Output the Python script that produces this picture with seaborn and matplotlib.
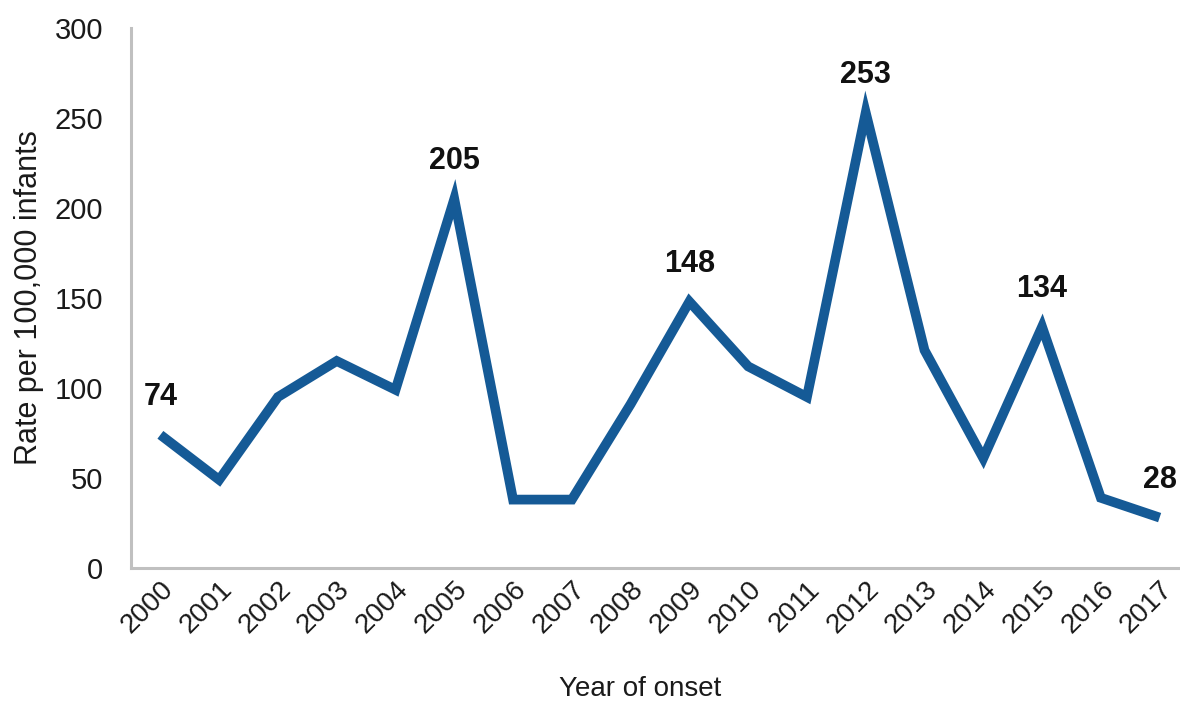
import matplotlib
matplotlib.use("Agg")
import matplotlib.pyplot as plt
import seaborn as sns
import pandas as pd

years = ["2000", "2001", "2002", "2003", "2004", "2005", "2006", "2007", "2008",
         "2009", "2010", "2011", "2012", "2013", "2014", "2015", "2016", "2017"]
rates = [74, 49, 95, 115, 99, 205, 38, 38, 91, 148, 112, 95, 253, 121, 61, 134, 39, 28]
labeled_years = ["2000", "2005", "2009", "2012", "2015", "2017"]

sns.set_theme(style="white")
plt.rcParams['font.family'] = ['Liberation Sans', 'DejaVu Sans']

df = pd.DataFrame({"year": years, "rate": rates})
df["pos"] = range(len(df))

fig = plt.figure(figsize=(11.8, 7.04), dpi=100)
axw = (1189 - 131) / 1180
ax = fig.add_axes([131/1180, (704-568)/704, axw, 540/704])

sns.lineplot(data=df, x="pos", y="rate", ax=ax, color="#155a96", linewidth=7,
             solid_joinstyle="miter", solid_capstyle="butt")

ax.set_xlim(-0.5, len(years) - 0.5)
ax.set_ylim(0, 300)
ax.set_yticks([0, 50, 100, 150, 200, 250, 300])
ax.set_xticks(df["pos"])
ax.set_xticklabels(years, rotation=45, ha="right", rotation_mode="anchor")
ax.tick_params(axis="both", length=0, colors="#1a1a1a")
ax.tick_params(axis="x", pad=6, labelsize=20)
ax.tick_params(axis="y", pad=20, labelsize=21)

for s in ["top", "right"]:
    ax.spines[s].set_visible(False)
for s in ["left", "bottom"]:
    ax.spines[s].set_color("#c0c0c0")
    ax.spines[s].set_linewidth(2.2)

ax.set_xlabel("Year of onset", fontsize=20, color="#1a1a1a")
ax.set_ylabel("Rate per 100,000 infants", fontsize=22, color="#1a1a1a")
ax.xaxis.set_label_coords((640-131)/(1189-131), -(676-568)/540)
ax.yaxis.set_label_coords((44-131)/(1189-131), 0.5)

for _, r in df.iterrows():
    if r["year"] in labeled_years:
        ax.annotate(str(r["rate"]), (r["pos"], r["rate"]), xytext=(0, 38),
                    textcoords="offset pixels", ha="center", va="center",
                    fontsize=22, fontweight="bold", color="#111111")

ax.grid(False)
fig.savefig("out.png", dpi=100)
